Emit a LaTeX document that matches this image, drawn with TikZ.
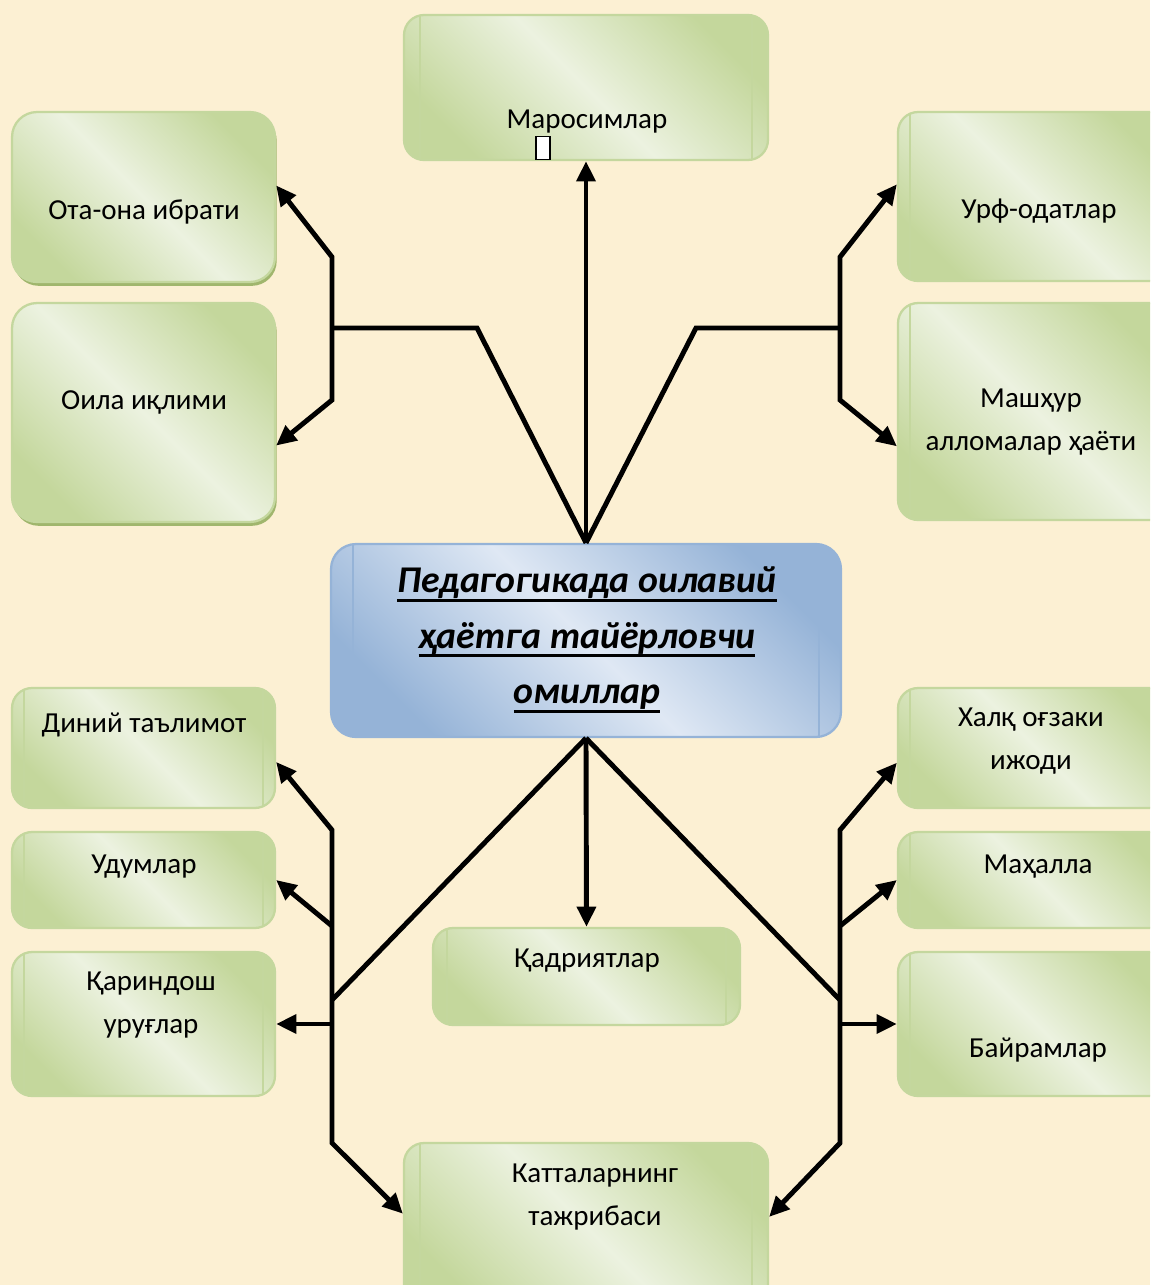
\documentclass[tikz,border=0pt]{standalone}
\usepackage{fontspec}
\setmainfont{Carlito}
\usepackage{tikz}
\usetikzlibrary{arrows.meta,positioning,calc,shadows}
\definecolor{cBg}{RGB}{252,240,211}
\definecolor{cLeafDark}{RGB}{196,215,156}
\definecolor{cLeafLight}{RGB}{236,242,224}
\definecolor{cLeafEdge}{RGB}{196,215,158}
\definecolor{cLeafShadow}{RGB}{150,176,98}
\definecolor{cCoreDark}{RGB}{149,179,215}
\definecolor{cCoreLight}{RGB}{223,232,244}
\newcommand{\tline}[1]{\setbox0\hbox{#1}\leavevmode\rlap{\rule[-5.2pt]{\wd0}{1.7pt}}\box0}

\begin{document}
\begin{tikzpicture}[
    x=0.02cm, y=-0.02cm,
    >={Triangle[length=11.5pt,width=10.5pt]},
    leaf/.style={rectangle,draw=cLeafEdge,line width=1.3pt,rounded corners=0.4cm,inner sep=0pt,
      top color=cLeafDark,bottom color=cLeafDark,middle color=cLeafLight,shading angle=135},
    plainbox/.style={leaf,rounded corners=0.5cm,
      drop shadow={shadow xshift=1pt,shadow yshift=-2.2pt,fill=cLeafShadow,opacity=0.9}},
    scroll/.style={leaf,path picture={
      \draw[cLeafEdge,line width=1.3pt]
        ([xshift=#1]path picture bounding box.north west) -- ([xshift=#1]path picture bounding box.south west)
        ([xshift=-#1]path picture bounding box.north east) -- ([xshift=-#1]path picture bounding box.south east);}},
    scroll/.default=0.3cm,
    core/.style={rectangle,draw=cCoreDark,line width=1.3pt,rounded corners=0.5cm,inner sep=0pt,
      top color=cCoreDark,bottom color=cCoreDark,middle color=cCoreLight,shading angle=135,
      path picture={
      \draw[cCoreDark,line width=1.3pt]
        ([xshift=0.44cm]path picture bounding box.north west) -- ([xshift=0.44cm]path picture bounding box.south west)
        ([xshift=-0.44cm]path picture bounding box.north east) -- ([xshift=-0.44cm]path picture bounding box.south east);}},
    txt/.style={font=\fontsize{16.5}{24.4}\selectfont,align=center,inner sep=0pt},
    title/.style={font=\fontsize{21.5}{31.6}\selectfont\bfseries\itshape,align=center,inner sep=0pt},
    wire/.style={line width=2.8pt,line join=miter}
  ]
  \clip (0,0) rectangle (1150,1285);
  \fill[cBg] (0,0) rectangle (1150,1285);

  % boxes
  \node[scroll=0.32cm,minimum width=7.28cm,minimum height=2.9cm] (maro) at (586,87.5) {};
  \node[plainbox,minimum width=5.26cm,minimum height=3.4cm] (ota) at (143.5,197) {};
  \node[plainbox,minimum width=5.26cm,minimum height=4.38cm] (oila) at (143.5,412.5) {};
  \node[scroll=0.24cm,minimum width=5.54cm,minimum height=3.38cm] (urf) at (1036.5,196.5) {};
  \node[scroll=0.24cm,minimum width=5.54cm,minimum height=4.34cm] (mash) at (1036.5,411.5) {};
  \node[core,minimum width=10.2cm,minimum height=3.86cm] (main) at (586,640.5) {};
  \node[scroll=0.24cm,minimum width=5.26cm,minimum height=2.4cm] (dini) at (143.5,748) {};
  \node[scroll=0.24cm,minimum width=5.26cm,minimum height=1.92cm] (udum) at (143.5,880) {};
  \node[scroll=0.24cm,minimum width=5.26cm,minimum height=2.88cm] (qarin) at (143.5,1024) {};
  \node[scroll=0.24cm,minimum width=5.54cm,minimum height=2.4cm] (xalq) at (1036.5,748) {};
  \node[scroll=0.24cm,minimum width=5.54cm,minimum height=1.92cm] (mahal) at (1036.5,880) {};
  \node[scroll=0.24cm,minimum width=5.54cm,minimum height=2.88cm] (bayr) at (1036.5,1024) {};
  \node[scroll=0.28cm,minimum width=6.14cm,minimum height=1.94cm] (qadr) at (586.5,976.5) {};
  \node[scroll=0.32cm,minimum width=7.28cm,minimum height=3.34cm] (katta) at (586,1226.5) {};

  % texts
  \node[txt,anchor=base] (maro-t) at (587,128) {Маросимлар};
  \node[draw,fill=white,line width=0.9pt,inner sep=0pt,minimum width=0.28cm,minimum height=0.46cm] (caret) at (543,148) {};
  \node[txt,anchor=base] (ota-t) at (144,219) {Ота-она ибрати};
  \node[txt,anchor=base] (oila-t) at (144,409) {Оила иқлими};
  \node[txt,anchor=base] (urf-t) at (1039,218) {Урф-одатлар};
  \node[txt] (mash-t) at (1031,422) {Машҳур\\алломалар ҳаёти};
  \node[title] (main-t) at (587,640) {\tline{Педагогикада оилавий}\\\tline{ҳаётга тайёрловчи}\\\tline{омиллар}};
  \node[txt,anchor=base] (dini-t) at (144,732) {Диний таълимот};
  \node[txt,anchor=base] (udum-t) at (144,873) {Удумлар};
  \node[txt] (qarin-t) at (151,1005) {Қариндош\\уруғлар};
  \node[txt] (xalq-t) at (1031,741) {Халқ оғзаки\\ижоди};
  \node[txt,anchor=base] (mahal-t) at (1038,873) {Маҳалла};
  \node[txt,anchor=base] (bayr-t) at (1038,1057) {Байрамлар};
  \node[txt,anchor=base] (qadr-t) at (587,967) {Қадриятлар};
  \node[txt] (katta-t) at (595,1197) {Катталарнинг\\тажрибаси};

  % junctions
  \coordinate (tlb) at (477,328); \coordinate (tlj) at (332,328);
  \coordinate (tlu) at (332,257); \coordinate (tld) at (332,400);
  \coordinate (trb) at (696,328); \coordinate (trj) at (840,328);
  \coordinate (tru) at (840,257); \coordinate (trd) at (840,400);
  \coordinate (blj) at (332,1000); \coordinate (blu) at (332,830);
  \coordinate (blm) at (332,926); \coordinate (blq) at (332,1024);
  \coordinate (bll) at (332,1143);
  \coordinate (brj) at (840,1000); \coordinate (bru) at (840,830);
  \coordinate (brm) at (840,926); \coordinate (brq) at (840,1024);
  \coordinate (brl) at (840,1143);

  % upper connectors
  \draw[wire,->] (main.north) -- (maro.south);
  \draw[wire] (main.north) -- (tlb) -- (tlj);
  \draw[wire] (main.north) -- (trb) -- (trj);
  \draw[wire,<->] (ota.5) -- (tlu) -- (tld) -- (oila.-14);
  \draw[wire,<->] (urf.175) -- (tru) -- (trd) -- (mash.194);

  % lower connectors
  \draw[wire,->] (main.south) -- (qadr.north);
  \draw[wire] (main.south) -- (blj);
  \draw[wire] (main.south) -- (brj);
  \draw[wire,<->] (dini.-6.5) -- (blu) -- (bll) -- (katta.176);
  \draw[wire,<->] (xalq.186) -- (bru) -- (brl) -- (katta.3.6);
  \draw[wire,->] (blm) -- (udum.east);
  \draw[wire,->] (blq) -- (qarin.east);
  \draw[wire,->] (brm) -- (mahal.west);
  \draw[wire,->] (brq) -- (bayr.west);
\end{tikzpicture}
\end{document}
